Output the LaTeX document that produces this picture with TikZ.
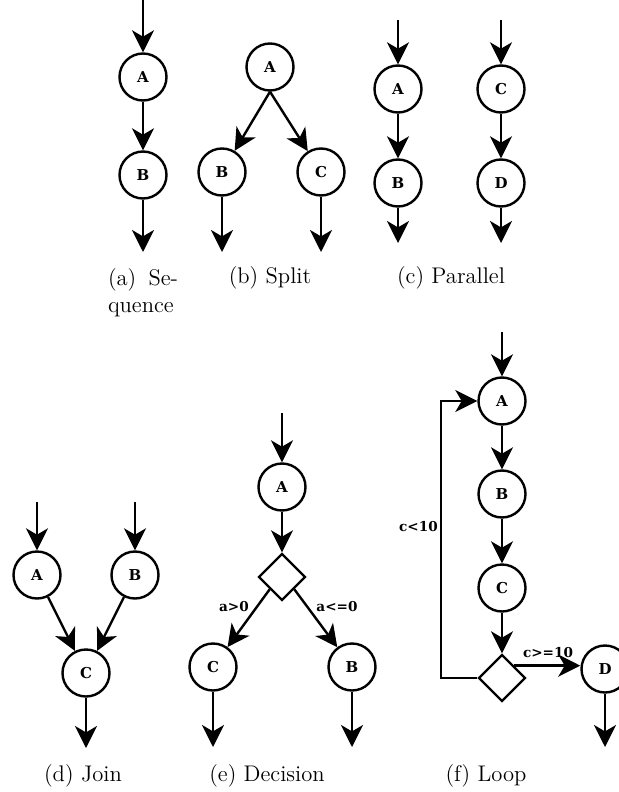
\documentclass[tikz,border=0pt]{standalone}
\usepackage{fontspec}
\usetikzlibrary{arrows.meta, shapes.geometric}
\newfontfamily\lblfont{DejaVu Serif}
\tikzset{
  every picture/.style={line width=1.2pt},
  state/.style={draw, circle, minimum size=23.5pt, inner sep=0pt, font={\fontsize{7.5}{8}\lblfont\bfseries}},
  cond/.style={draw, diamond, minimum size=23.5pt, inner sep=0pt},
  flow/.style={-{Stealth[length=11pt, width=11pt, inset=3.2pt]}},
  guard/.style={font={\fontsize{6.8}{7}\lblfont\bfseries}, inner sep=0pt},
  subcap/.style={font={\fontsize{11.3}{13.5}\selectfont}, inner sep=0pt, anchor=base},
}

\begin{document}
\begin{tikzpicture}[x=0.5pt, y=-0.5pt]
  \useasboundingbox (0,0) rectangle (619,792);
  \clip (0,0) rectangle (619,792);

  % (a) sequence
  \coordinate (seqIn) at (143,0);
  \node[state] (seqA) at (143,77) {A};
  \node[state] (seqB) at (143,175) {B};
  \coordinate (seqOut) at (143,252);
  \draw[flow] (seqIn) -- (seqA);
  \draw[flow] (seqA) -- (seqB);
  \draw[flow] (seqB) -- (seqOut);
  \node[subcap, anchor=north, text width=35pt, align=justify] at (143,267) {(a) Se-\linebreak quence};

  % (b) split
  \node[state] (spA) at (270,67) {A};
  \node[state] (spB) at (222,172) {B};
  \node[state] (spC) at (321,172) {C};
  \coordinate (spBOut) at (222,252);
  \coordinate (spCOut) at (321,252);
  \draw[flow] (spA.south) -- (spB);
  \draw[flow] (spA.south) -- (spC);
  \draw[flow] (spB) -- (spBOut);
  \draw[flow] (spC) -- (spCOut);
  \node[subcap] at (270,283) {(b) Split};

  % (c) parallel
  \coordinate (parAIn) at (398,20);
  \coordinate (parCIn) at (501,20);
  \node[state] (parA) at (398,89) {A};
  \node[state] (parB) at (398,183) {B};
  \node[state] (parC) at (501,89) {C};
  \node[state] (parD) at (501,183) {D};
  \coordinate (parBOut) at (398,243);
  \coordinate (parDOut) at (501,243);
  \draw[flow] (parAIn) -- (parA);
  \draw[flow] (parA) -- (parB);
  \draw[flow] (parB) -- (parBOut);
  \draw[flow] (parCIn) -- (parC);
  \draw[flow] (parC) -- (parD);
  \draw[flow] (parD) -- (parDOut);
  \node[subcap] at (451,283) {(c) Parallel};

  % (d) join
  \coordinate (joinAIn) at (37,502);
  \coordinate (joinBIn) at (135,502);
  \node[state] (joinA) at (37,575) {A};
  \node[state] (joinB) at (135,575) {B};
  \node[state] (joinC) at (86,673) {C};
  \coordinate (joinOut) at (86,748);
  \draw[flow] (joinAIn) -- (joinA);
  \draw[flow] (joinBIn) -- (joinB);
  \draw[flow] (joinA) -- (joinC);
  \draw[flow] (joinB) -- (joinC);
  \draw[flow] (joinC) -- (joinOut);
  \node[subcap] at (83,781) {(d) Join};

  % (e) decision
  \coordinate (decIn) at (282,413);
  \node[state] (decA) at (282,487) {A};
  \node[cond] (decQ) at (282,577) {};
  \node[state] (decC) at (213,667) {C};
  \node[state] (decB) at (352,667) {B};
  \coordinate (decCOut) at (213,747);
  \coordinate (decBOut) at (352,747);
  \draw[flow] (decIn) -- (decA);
  \draw[flow] (decA) -- (decQ);
  \draw[flow] (decQ.south west) -- (decC);
  \draw[flow] (decQ.south east) -- (decB);
  \draw[flow] (decC) -- (decCOut);
  \draw[flow] (decB) -- (decBOut);
  \node[guard] at (234,607) {a>0};
  \node[guard] at (337,607) {a<=0};
  \node[subcap] at (267,781) {(e) Decision};

  % (f) loop
  \coordinate (loopIn) at (502,332);
  \node[state] (loopA) at (502,401) {A};
  \node[state] (loopB) at (502,494) {B};
  \node[state] (loopC) at (502,588) {C};
  \node[cond] (loopQ) at (502,678) {};
  \node[state] (loopD) at (605,669) {D};
  \coordinate (loopBack) at (441,678);
  \coordinate (loopOut) at (605,747);
  \draw[flow] (loopIn) -- (loopA);
  \draw[flow] (loopA) -- (loopB);
  \draw[flow] (loopB) -- (loopC);
  \draw[flow] (loopC) -- (loopQ);
  \draw[flow] (loopQ.west) -- (loopBack) |- (loopA);
  \draw[flow] (loopQ.north east) -- (loopQ.north east -| loopD.west);
  \draw[flow] (loopD) -- (loopOut);
  \node[guard, anchor=east] at (439,527) {c<10};
  \node[guard] at (548,653) {c>=10};
  \node[subcap] at (486,781) {(f) Loop};
\end{tikzpicture}
\end{document}
